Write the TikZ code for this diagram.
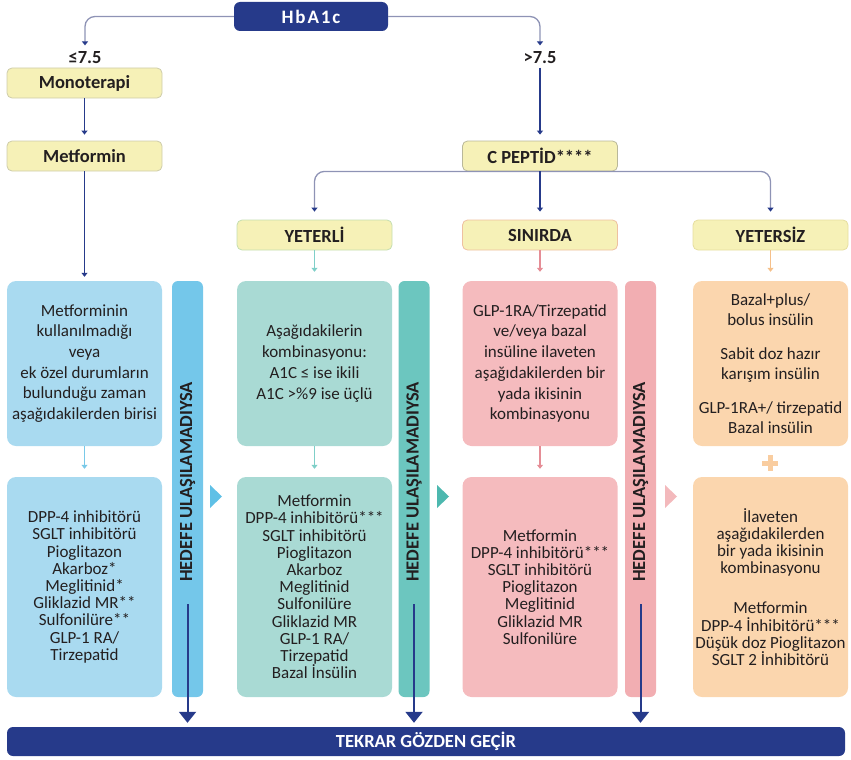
\documentclass[tikz,border=0pt]{standalone}
\usepackage{fontspec}
\setmainfont{Carlito}
\usepackage{tikz}
\usepackage{xcolor}
\usetikzlibrary{arrows.meta}

\definecolor{navy}{RGB}{38,58,138}
\definecolor{linegray}{RGB}{142,147,181}
\definecolor{headfill}{RGB}{246,241,183}
\definecolor{headline}{RGB}{206,204,170}
\definecolor{yetline}{RGB}{196,222,176}
\definecolor{sinline}{RGB}{238,192,160}
\definecolor{ysline}{RGB}{230,222,160}
\definecolor{boxblue}{RGB}{169,218,240}
\definecolor{boxteal}{RGB}{169,218,212}
\definecolor{boxpink}{RGB}{245,187,190}
\definecolor{boxorange}{RGB}{251,214,174}
\definecolor{barblue}{RGB}{116,199,234}
\definecolor{barteal}{RGB}{108,198,191}
\definecolor{barpink}{RGB}{242,174,178}
\definecolor{triblue}{RGB}{95,192,230}
\definecolor{triteal}{RGB}{77,184,175}
\definecolor{tripink}{RGB}{243,185,188}
\definecolor{arrblue}{RGB}{121,201,232}
\definecolor{arrteal}{RGB}{127,207,200}
\definecolor{arrpink}{RGB}{229,141,150}
\definecolor{arrorange}{RGB}{245,192,138}
\definecolor{plusc}{RGB}{249,205,160}
\definecolor{txt}{RGB}{35,31,32}

\begin{document}
\begin{tikzpicture}[x=1pt, y=-1pt,
    head/.style={rectangle, draw=headline, fill=headfill, line width=0.8pt, rounded corners=5pt, minimum width=155pt, minimum height=30pt, text=txt, font=\fontsize{18.5}{20}\selectfont\bfseries},
    dark/.style={rectangle, fill=navy, rounded corners=6pt, text=white, font=\fontsize{18.5}{20}\selectfont\bfseries},
    topbox/.style={rectangle, rounded corners=9pt, minimum width=155pt, minimum height=165pt, align=center, inner sep=0pt, text=txt, font=\fontsize{17}{20.7}\selectfont},
    lowbox/.style={topbox, minimum height=220pt, font=\fontsize{17}{17.2}\selectfont},
    bar/.style={rectangle, rounded corners=6pt, minimum width=31pt, minimum height=416pt, inner sep=0pt},
    hedef/.style={rotate=90, anchor=west, inner sep=0pt, text=txt, font=\fontsize{18.5}{20}\selectfont\bfseries},
    conn/.style={draw=linegray, line width=1.3pt, rounded corners=10pt, -{Triangle[width=6pt,length=4pt,color=navy]}, shorten >=3pt},
    arrow/.style={draw=navy, line width=1.3pt, -{Triangle[width=6pt,length=4pt]}, shorten >=6pt},
    small/.style={line width=1.2pt, -{Triangle[width=6pt,length=4pt]}, shorten >=8pt},
    bigarrow/.style={draw=navy, line width=2pt, -{Triangle[width=17pt,length=11pt]}, shorten >=4pt}
]
    \useasboundingbox (0,0) rectangle (851,760);

    \node[dark, minimum width=154pt, minimum height=29pt, font=\fontsize{19}{20}\selectfont\bfseries\addfontfeature{LetterSpace=10}] (hba) at (311,16.5) {HbA1c};
    \node[text=txt, font=\fontsize{18.5}{20}\selectfont\bfseries] (lo) at (85,58) {≤7.5};
    \node[text=txt, font=\fontsize{18.5}{20}\selectfont\bfseries] (hi) at (540,58) {>7.5};

    \node[head] (mono) at (84.5,83) {Monoterapi};
    \node[head] (metf) at (84.5,156) {Metformin};
    \node[head, draw=headline!90!black] (cpep) at (540,156) {C PEPTİD****};
    \node[head, draw=yetline] (yet) at (314.5,235) {YETERLİ};
    \node[head, draw=sinline] (sin) at (540,235) {SINIRDA};
    \node[head, draw=ysline] (yes) at (770.5,235) {YETERSİZ};

    \node[topbox, fill=boxblue] (b1t) at (84.5,363.5) {Metforminin\\kullanılmadığı\\veya\\ek özel durumların\\bulunduğu zaman\\aşağıdakilerden birisi};
    \node[lowbox, fill=boxblue] (b1l) at (84.5,587) {DPP-4 inhibitörü\\SGLT inhibitörü\\Pioglitazon\\Akarboz*\\Meglitinid*\\Gliklazid MR**\\Sulfonilüre**\\GLP-1 RA/\\Tirzepatid};
    \node[topbox, fill=boxteal] (b2t) at (314.5,363.5) {Aşağıdakilerin\\kombinasyonu:\\A1C ≤ ise ikili\\A1C >\%9 ise üçlü};
    \node[lowbox, fill=boxteal] (b2l) at (314.5,587) {Metformin\\DPP-4 inhibitörü***\\SGLT inhibitörü\\Pioglitazon\\Akarboz\\Meglitinid\\Sulfonilüre\\Gliklazid MR\\GLP-1 RA/\\Tirzepatid\\Bazal İnsülin};
    \node[topbox, fill=boxpink] (b3t) at (540,363.5) {GLP-1RA/Tirzepatid\\ve/veya bazal\\insüline ilaveten\\aşağıdakilerden bir\\yada ikisinin\\kombinasyonu};
    \node[lowbox, fill=boxpink] (b3l) at (540,587) {Metformin\\DPP-4 inhibitörü***\\SGLT inhibitörü\\Pioglitazon\\Meglitinid\\Gliklazid MR\\Sulfonilüre};
    \node[topbox, fill=boxorange, font=\fontsize{17}{20}\selectfont] (b4t) at (770.5,363.5) {Bazal+plus/\\bolus insülin\\[14pt]Sabit doz hazır\\karışım insülin\\[14pt]GLP-1RA+/ tirzepatid\\Bazal insülin};
    \node[lowbox, fill=boxorange] (b4l) at (770.5,587) {İlaveten\\aşağıdakilerden\\bir yada ikisinin\\kombinasyonu\\[23pt]Metformin\\DPP-4 İnhibitörü***\\Düşük doz Pioglitazon\\SGLT 2 İnhibitörü};

    \node[bar, fill=barblue] (r1) at (187.5,489) {};
    \node[bar, fill=barteal] (r2) at (414,489) {};
    \node[bar, fill=barpink] (r3) at (640.5,489) {};
    \node[hedef] (h1) at (187.5,582) {HEDEFE ULAŞILAMADIYSA};
    \node[hedef] (h2) at (414,582) {HEDEFE ULAŞILAMADIYSA};
    \node[hedef] (h3) at (640.5,582) {HEDEFE ULAŞILAMADIYSA};

    \fill[triblue] (210,485) -- ++(12,11.5) -- ++(-12,11.5) -- cycle;
    \fill[triteal] (437,485) -- ++(12,11.5) -- ++(-12,11.5) -- cycle;
    \fill[tripink] (665,485) -- ++(12,11.5) -- ++(-12,11.5) -- cycle;
    \draw[plusc, line width=5pt] (762,463) -- (778,463) (770,455) -- (770,471);

    \node[dark, minimum width=838pt, minimum height=29pt] (tek) at (426,741.5) {TEKRAR GÖZDEN GEÇİR};

    \draw[conn] (hba.west) -| (lo.north);
    \draw[conn] (hba.east) -| (hi.north);
    \draw[arrow] (hi.south) -- (cpep.north);
    \draw[arrow] (mono.south) -- (metf.north);
    \draw[arrow, shorten >=4pt] (metf.south) -- (b1t.north);
    \draw[conn, shorten >=8pt] (cpep.south) -| (yet.north);
    \draw[conn, shorten >=8pt] (cpep.south) -| (yes.north);
    \draw[arrow, shorten >=8pt] (cpep.south) -- (sin.north);
    \draw[small, draw=arrteal, shorten >=9pt] (yet.south) -- (b2t.north);
    \draw[small, draw=arrpink, shorten >=9pt] (sin.south) -- (b3t.north);
    \draw[small, draw=arrorange, shorten >=9pt] (yes.south) -- (b4t.north);
    \draw[small, draw=arrblue] (b1t.south) -- (b1l.north);
    \draw[small, draw=arrteal] (b2t.south) -- (b2l.north);
    \draw[small, draw=arrpink] (b3t.south) -- (b3l.north);

    \draw[bigarrow] ([yshift=-22pt]h1.west) -- (h1.west |- tek.north);
    \draw[bigarrow] ([yshift=-22pt]h2.west) -- (h2.west |- tek.north);
    \draw[bigarrow] ([yshift=-22pt]h3.west) -- (h3.west |- tek.north);
\end{tikzpicture}
\end{document}
